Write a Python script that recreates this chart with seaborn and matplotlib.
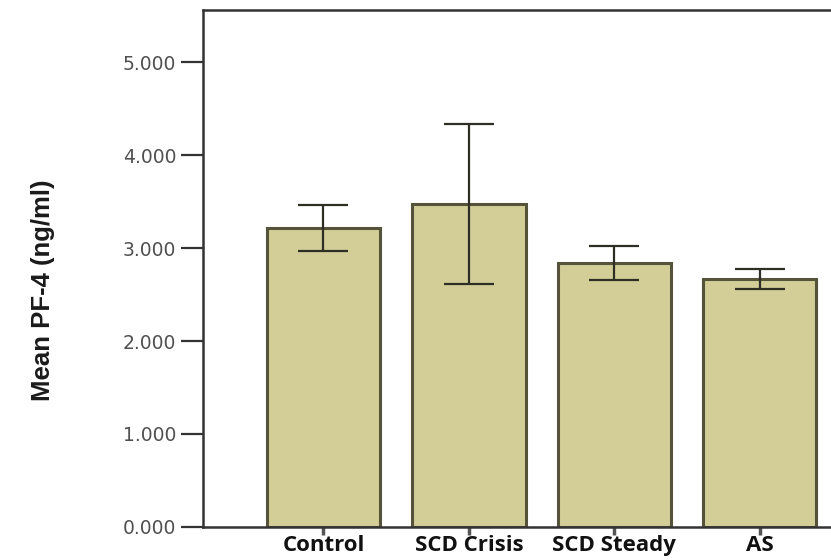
#!/usr/bin/env python3
"""Bar chart of mean PF-4 by group with error bars."""

import matplotlib
matplotlib.use("Agg")
import matplotlib.pyplot as plt
import numpy as np
import pandas as pd
import seaborn as sns

CATEGORIES = ["Control", "SCD Crisis", "SCD Steady", "AS"]
MEANS = [3.215, 3.470, 2.840, 2.670]
ERR_LOW = [2.970, 2.610, 2.660, 2.555]
ERR_HIGH = [3.460, 4.330, 3.020, 2.780]
Y_TICKS = [0, 1, 2, 3, 4, 5]

BAR_COLOR = "#d3cd98"
EDGE_COLOR = "#55533a"


def main():
    sns.set_theme(style="white")
    plt.rcParams["font.family"] = ["Liberation Sans", "DejaVu Sans"]

    df = pd.DataFrame({"group": CATEGORIES, "mean": MEANS})

    fig = plt.figure(figsize=(8.31, 5.60), dpi=100)
    ax = fig.add_axes([0.244, 0.059, 0.756, 0.923])

    sns.barplot(data=df, x="group", y="mean", color=BAR_COLOR, width=0.78,
                edgecolor=EDGE_COLOR, linewidth=2.2, saturation=1, ax=ax)

    x = np.arange(len(CATEGORIES))
    means = np.array(MEANS)
    yerr = np.vstack([means - np.array(ERR_LOW), np.array(ERR_HIGH) - means])
    ax.errorbar(x, means, yerr=yerr, fmt="none", ecolor="#2e2e24",
                elinewidth=1.6, capsize=18, capthick=1.6)

    ax.set_xlim(-0.83, 3.49)
    ax.set_ylim(0, 5.56)
    ax.set_yticks(Y_TICKS)
    ax.set_yticklabels([f"{v:.3f}" for v in Y_TICKS], color="#505050",
                       fontsize=13.5, family=["DejaVu Sans"])
    ax.set_xticks(x)
    ax.set_xticklabels(CATEGORIES, fontsize=16, fontweight="bold",
                       family=["Open Sans", "DejaVu Sans"], color="#111111")
    ax.set_xlabel("")
    ax.set_ylabel("Mean PF-4 (ng/ml)", fontsize=18.5, fontweight="bold",
                  color="#1a1a1a")
    ax.yaxis.set_label_coords(-0.235, 0.458)

    for side in ["left", "top", "bottom"]:
        ax.spines[side].set_visible(True)
        ax.spines[side].set_color("#333333")
        ax.spines[side].set_linewidth(1.8)
    ax.spines["right"].set_visible(False)
    ax.tick_params(axis="y", direction="out", length=16, width=1.6,
                   color="#333333", left=True, pad=3)
    ax.tick_params(axis="x", direction="out", length=6, width=2.5,
                   color="#555555", bottom=True, pad=0)

    fig.savefig("out.png", dpi=100)
    plt.close(fig)


if __name__ == "__main__":
    main()
